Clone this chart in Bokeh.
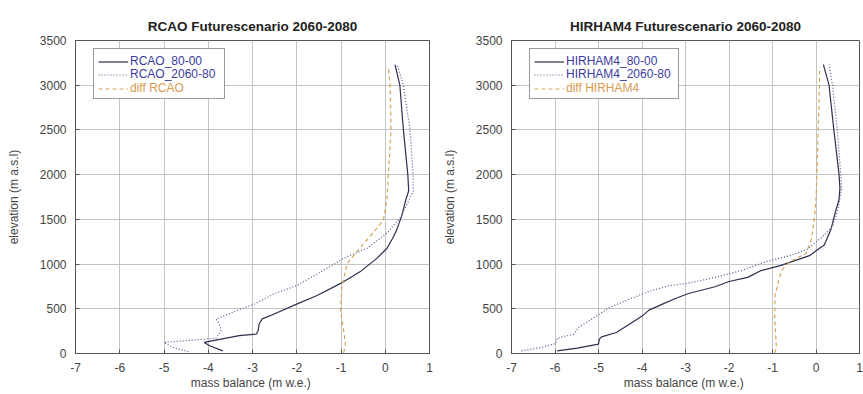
from bokeh.plotting import figure
from bokeh.layouts import row
from bokeh.models import Range1d, FixedTicker, Legend, LegendItem, CustomJSTickFormatter
from bokeh.embed import file_html
from bokeh.resources import INLINE

# ---------------- data ----------------
titles = ["RCAO Futurescenario 2060-2080", "HIRHAM4 Futurescenario 2060-2080"]
legend_labels_rcao = ["RCAO_80-00", "RCAO_2060-80", "diff RCAO"]
legend_labels_hirham = ["HIRHAM4_80-00", "HIRHAM4_2060-80", "diff HIRHAM4"]
x_ticks = [-7, -6, -5, -4, -3, -2, -1, 0, 1]
y_ticks = [0, 500, 1000, 1500, 2000, 2500, 3000, 3500]

# RCAO present (solid)
rcao_ref_y = [30, 86, 124, 200, 218, 260, 330, 387, 441, 555, 649, 781, 913, 1064, 1177, 1300,
              1385, 1536, 1709, 1820, 2000, 2500, 3000, 3231]
rcao_ref_x = [-3.67, -3.97, -4.09, -3.30, -2.91, -2.87, -2.85, -2.78, -2.51, -1.99, -1.54, -1.02,
              -0.57, -0.19, 0.04, 0.18, 0.26, 0.37, 0.46, 0.53, 0.51, 0.41, 0.33, 0.22]
# RCAO future (dotted)
rcao_fut_y = [20, 67, 124, 172, 255, 330, 386, 440, 498, 554, 668, 762, 932, 1064, 1177, 1347,
              1517, 1709, 1815, 2000, 2500, 3000, 3231]
rcao_fut_x = [-4.45, -4.80, -5.00, -3.82, -3.71, -3.75, -3.82, -3.55, -3.26, -2.95, -2.51, -1.99,
              -1.39, -0.94, -0.41, 0.04, 0.34, 0.53, 0.63, 0.63, 0.56, 0.41, 0.27]
# RCAO difference (dashed)
rcao_diff_y = [8, 102, 253, 479, 743, 1008, 1140, 1272, 1423, 1498, 1725, 2000, 2500, 3000, 3200]
rcao_diff_x = [-0.94, -0.90, -0.94, -1.01, -0.98, -0.86, -0.64, -0.41, -0.15, -0.04, 0.04, 0.07,
               0.13, 0.11, 0.07]

# HIRHAM4 present (solid)
hir_ref_y = [30, 60, 104, 160, 186, 235, 328, 421, 485, 552, 615, 671, 746, 805, 851, 926, 982,
             1094, 1176, 1213, 1383, 1590, 1722, 1850, 2000, 2500, 3000, 3231]
hir_ref_x = [-5.95, -5.49, -5.00, -4.98, -4.93, -4.59, -4.29, -3.99, -3.84, -3.53, -3.23, -2.93,
             -2.32, -2.00, -1.57, -1.27, -0.82, -0.15, 0.08, 0.19, 0.34, 0.45, 0.53, 0.55, 0.53,
             0.41, 0.30, 0.17]
# HIRHAM4 future (dotted)
hir_fut_y = [30, 67, 112, 172, 216, 291, 421, 515, 608, 694, 757, 787, 851, 926, 1019, 1094, 1168,
             1307, 1420, 1590, 1835, 2000, 2500, 3000, 3231]
hir_fut_x = [-6.77, -6.32, -5.98, -5.95, -5.57, -5.46, -5.04, -4.74, -4.29, -3.84, -3.38, -2.93,
             -2.32, -1.72, -1.20, -0.60, -0.19, 0.15, 0.38, 0.49, 0.59, 0.57, 0.49, 0.38, 0.30]
# HIRHAM4 difference (dashed)
hir_diff_y = [5, 64, 403, 659, 780, 831, 944, 968, 1025, 1119, 1270, 1496, 1722, 2000, 2500, 3000, 3200]
hir_diff_x = [-0.95, -0.91, -0.95, -0.94, -0.87, -0.86, -0.77, -0.72, -0.60, -0.23, -0.11, -0.04,
              0.00, 0.02, 0.05, 0.08, 0.08]

# ---------------- style ----------------
FONT = "Liberation Sans"
C_REF = "#2e2e4e"
C_FUT = "#55558a"
C_DIFF = "#d8a45c"
TXT_BLUE = "#3c3ca0"
TXT_ORANGE = "#d89a50"


def make_panel(title, labels, ref, fut, diff, width, border_left, border_right, legend_label_w):
    p = figure(width=width, height=394, output_backend="svg", toolbar_location=None,
               x_range=Range1d(-7, 1), y_range=Range1d(0, 3500),
               min_border_left=border_left, min_border_right=border_right,
               min_border_top=40, min_border_bottom=41,
               title=title)
    p.title.text_font = FONT
    p.title.text_font_size = "13.5px"
    p.title.text_font_style = "bold"
    p.title.align = "center"
    p.title.text_color = "#222222"
    p.title.vertical_align = "top"
    p.title.standoff = 10

    p.outline_line_color = "#555555"
    p.outline_line_width = 1
    fmt = CustomJSTickFormatter(code="return tick.toString();")
    for ax in (p.xaxis[0], p.yaxis[0]):
        ax.axis_line_color = "#555555"
        ax.major_tick_in = 4
        ax.major_tick_out = 0
        ax.minor_tick_line_color = None
        ax.major_tick_line_color = "#555555"
        ax.major_label_text_font = FONT
        ax.major_label_text_font_size = "12px"
        ax.major_label_text_color = "#444444"
        ax.axis_label_text_font = FONT
        ax.axis_label_text_font_size = "12px"
        ax.axis_label_text_font_style = "normal"
        ax.axis_label_text_color = "#444444"
        ax.formatter = fmt
    p.xaxis.ticker = FixedTicker(ticks=x_ticks)
    p.yaxis.ticker = FixedTicker(ticks=y_ticks)
    p.xaxis.axis_label = "mass balance  (m w.e.)"
    p.yaxis.axis_label = "elevation (m a.s.l)"
    p.xaxis.major_label_standoff = 9
    p.yaxis.major_label_standoff = 9
    p.xaxis.axis_label_standoff = 1
    p.yaxis.axis_label_standoff = 16
    p.xgrid.ticker = FixedTicker(ticks=x_ticks)
    p.ygrid.ticker = FixedTicker(ticks=y_ticks)
    p.grid.grid_line_color = "#c4c4c4"
    p.grid.grid_line_width = 1

    r1 = p.line(ref[0], ref[1], line_color=C_REF, line_width=1.2)
    r2 = p.line(fut[0], fut[1], line_color=C_FUT, line_width=1.2, line_dash="1 2")
    r3 = p.line(diff[0], diff[1], line_color=C_DIFF, line_width=1.2, line_dash="4 3")
    rs = [r1, r2, r3]
    blank = p.line(x=[], y=[], line_alpha=0)

    # legend frame: white box with border, invisible entries
    box = Legend(items=[LegendItem(label="", renderers=[blank]) for _ in rs],
                 location=(18, 254), label_width=legend_label_w,
                 orientation="vertical", glyph_width=30, glyph_height=13, label_height=13,
                 label_standoff=2, spacing=0, padding=5, margin=0,
                 border_line_color="#333333", border_line_width=1,
                 background_fill_color="white", background_fill_alpha=1.0)
    p.add_layout(box, "center")
    # one transparent legend per entry so each label gets its own colour
    cols = [TXT_BLUE, TXT_BLUE, TXT_ORANGE]
    ylocs = [285, 272, 258]
    for r, lab, cc, yl in zip(rs, labels, cols, ylocs):
        lg = Legend(items=[LegendItem(label=lab, renderers=[r])], location=(23, yl),
                    orientation="vertical", glyph_width=30, glyph_height=13, label_height=13,
                    label_width=20, label_standoff=2, spacing=0, padding=0, margin=0,
                    label_text_font=FONT, label_text_font_size="12px", label_text_color=cc,
                    border_line_color=None, background_fill_alpha=0.0)
        p.add_layout(lg, "center")
    return p


p1 = make_panel(titles[0], legend_labels_rcao, (rcao_ref_x, rcao_ref_y), (rcao_fut_x, rcao_fut_y),
                (rcao_diff_x, rcao_diff_y), 439, 75, 10, 88)
p2 = make_panel(titles[1], legend_labels_hirham, (hir_ref_x, hir_ref_y), (hir_fut_x, hir_fut_y),
                (hir_diff_x, hir_diff_y), 424, 67, 4, 106)

p = row(p1, p2)
open("out.html", "w").write(file_html(p, INLINE))
